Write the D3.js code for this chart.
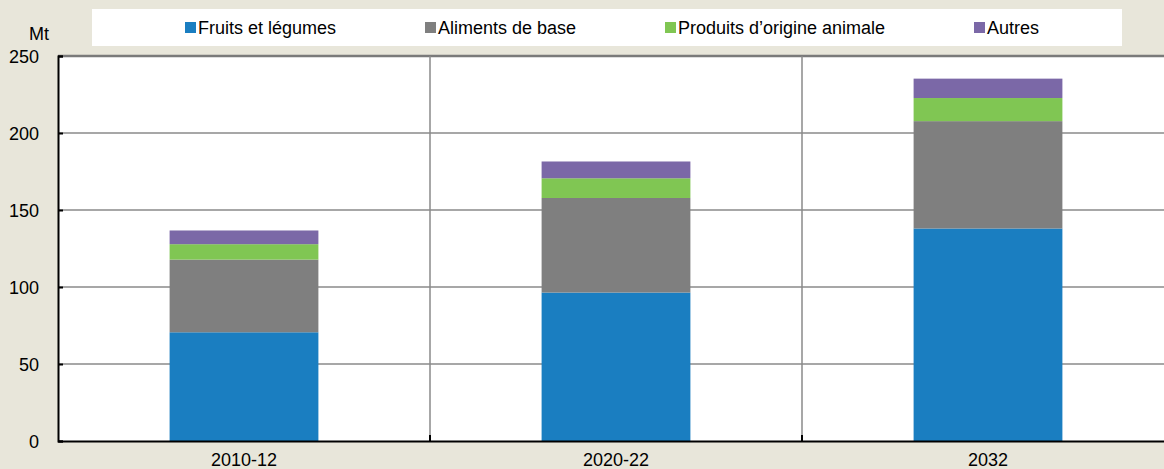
<!DOCTYPE html>
<html>
<head>
<meta charset="utf-8">
<script src="https://cdn.jsdelivr.net/npm/d3@7"></script>
<style>
  body { margin: 0; background: #e8e6da; }
  svg text { font-family: "Liberation Sans", Arial, sans-serif; fill: #000; }
</style>
</head>
<body>
<div id="chart"></div>
<script>
// Data (Mt)
const periods = ["2010-12", "2020-22", "2032"];
const seriesNames = ["Fruits et légumes", "Aliments de base", "Produits d\u2019origine animale", "Autres"];
const fruitsLegumes = [70.6, 96.4, 138.0];
const alimentsBase = [47.2, 61.4, 69.7];
const produitsAnimaux = [10.0, 12.8, 15.0];
const autres = [8.9, 10.9, 12.6];
const yTicks = [0, 50, 100, 150, 200, 250];

const colors = ["#1a7ec1", "#7f7f7f", "#80c653", "#7b68a7"];

// build the table for the stack
const table = periods.map(function(p, i) {
  return {
    period: p,
    s0: fruitsLegumes[i],
    s1: alimentsBase[i],
    s2: produitsAnimaux[i],
    s3: autres[i]
  };
});

const dims = {
  width: 1164,
  height: 469,
  margin: { top: 56, left: 58, right: -10, bottom: 28 }
};

const svg = d3.select("#chart")
  .append("svg")
  .attr("width", dims.width)
  .attr("height", dims.height);

svg.append("rect")
  .attr("width", dims.width)
  .attr("height", dims.height)
  .attr("fill", "#e8e6da");

const x0 = dims.margin.left;
const x1 = dims.width - dims.margin.right;
const yTop = dims.margin.top;
const yBottom = dims.height - dims.margin.bottom;

const x = d3.scaleBand()
  .domain(periods)
  .range([x0, x1])
  .paddingInner(0)
  .paddingOuter(0);

const barPad = 0.6; // share of the band left empty
const barW = x.bandwidth() * (1 - barPad);

const y = d3.scaleLinear()
  .domain([0, 250])
  .range([yBottom, yTop]);

// plot background
svg.append("rect")
  .attr("x", x0)
  .attr("y", yTop)
  .attr("width", x1 - x0)
  .attr("height", yBottom - yTop)
  .attr("fill", "#ffffff");

// horizontal gridlines
svg.append("g")
  .selectAll("line")
  .data(yTicks.filter(d => d > 0))
  .enter()
  .append("line")
  .attr("x1", x0)
  .attr("x2", x1)
  .attr("y1", d => y(d))
  .attr("y2", d => y(d))
  .attr("stroke", d => d === 250 ? "#7a7a7a" : "#8a8a8a")
  .attr("stroke-width", d => d === 250 ? 2.5 : 1.5);

// vertical separators between categories
const seps = periods.slice(1).map(p => x(p));
svg.append("g")
  .selectAll("line")
  .data(seps)
  .enter()
  .append("line")
  .attr("x1", d => d)
  .attr("x2", d => d)
  .attr("y1", yTop)
  .attr("y2", yBottom)
  .attr("stroke", "#8a8a8a")
  .attr("stroke-width", 1.5);

// stacked bars
const stack = d3.stack().keys(["s0", "s1", "s2", "s3"]);
const layers = stack(table);

svg.append("g")
  .selectAll("g")
  .data(layers)
  .enter()
  .append("g")
  .attr("fill", (d, i) => colors[i])
  .selectAll("rect")
  .data(d => d)
  .enter()
  .append("rect")
  .attr("x", d => x(d.data.period) + (x.bandwidth() - barW) / 2)
  .attr("width", barW)
  .attr("y", d => y(d[1]))
  .attr("height", d => y(d[0]) - y(d[1]));

// y axis
const yAxis = d3.axisLeft(y)
  .tickValues(yTicks)
  .tickSize(-5)
  .tickPadding(19);

const gy = svg.append("g")
  .attr("transform", `translate(${x0},0)`)
  .call(yAxis);
gy.select(".domain").attr("stroke", "#000").attr("stroke-width", 2);
gy.selectAll(".tick line").attr("stroke", "#000").attr("stroke-width", 2);
gy.selectAll(".tick text")
  .style("font-size", "18px")
  .attr("dy", "0.35em");

// x axis
const xAxis = d3.axisBottom(x)
  .tickSize(0)
  .tickPadding(0);

const gx = svg.append("g")
  .attr("transform", `translate(0,${yBottom})`)
  .call(xAxis);
gx.select(".domain").attr("stroke", "#000").attr("stroke-width", 2);
gx.selectAll(".tick text")
  .style("font-size", "18px")
  .attr("y", 25)
  .attr("dy", 0);

// small upward ticks at separators
svg.append("g")
  .selectAll("line")
  .data(seps)
  .enter()
  .append("line")
  .attr("x1", d => d)
  .attr("x2", d => d)
  .attr("y1", yBottom)
  .attr("y2", yBottom - 6)
  .attr("stroke", "#000")
  .attr("stroke-width", 2);

// unit label
svg.append("text")
  .attr("x", 49)
  .attr("y", 40)
  .attr("text-anchor", "end")
  .style("font-size", "18px")
  .text("Mt");

// legend
svg.append("rect")
  .attr("x", 92)
  .attr("y", 9)
  .attr("width", 1030)
  .attr("height", 37)
  .attr("fill", "#ffffff");

const legendX = [185, 425, 665, 974];
const legendItem = svg.append("g")
  .selectAll("g")
  .data(seriesNames)
  .enter()
  .append("g")
  .attr("transform", (d, i) => `translate(${legendX[i]},22)`);

legendItem.append("rect")
  .attr("width", 11)
  .attr("height", 11)
  .attr("fill", (d, i) => colors[i]);

legendItem.append("text")
  .attr("x", 13)
  .attr("y", 12)
  .style("font-size", "18px")
  .text(d => d);
</script>
</body>
</html>
